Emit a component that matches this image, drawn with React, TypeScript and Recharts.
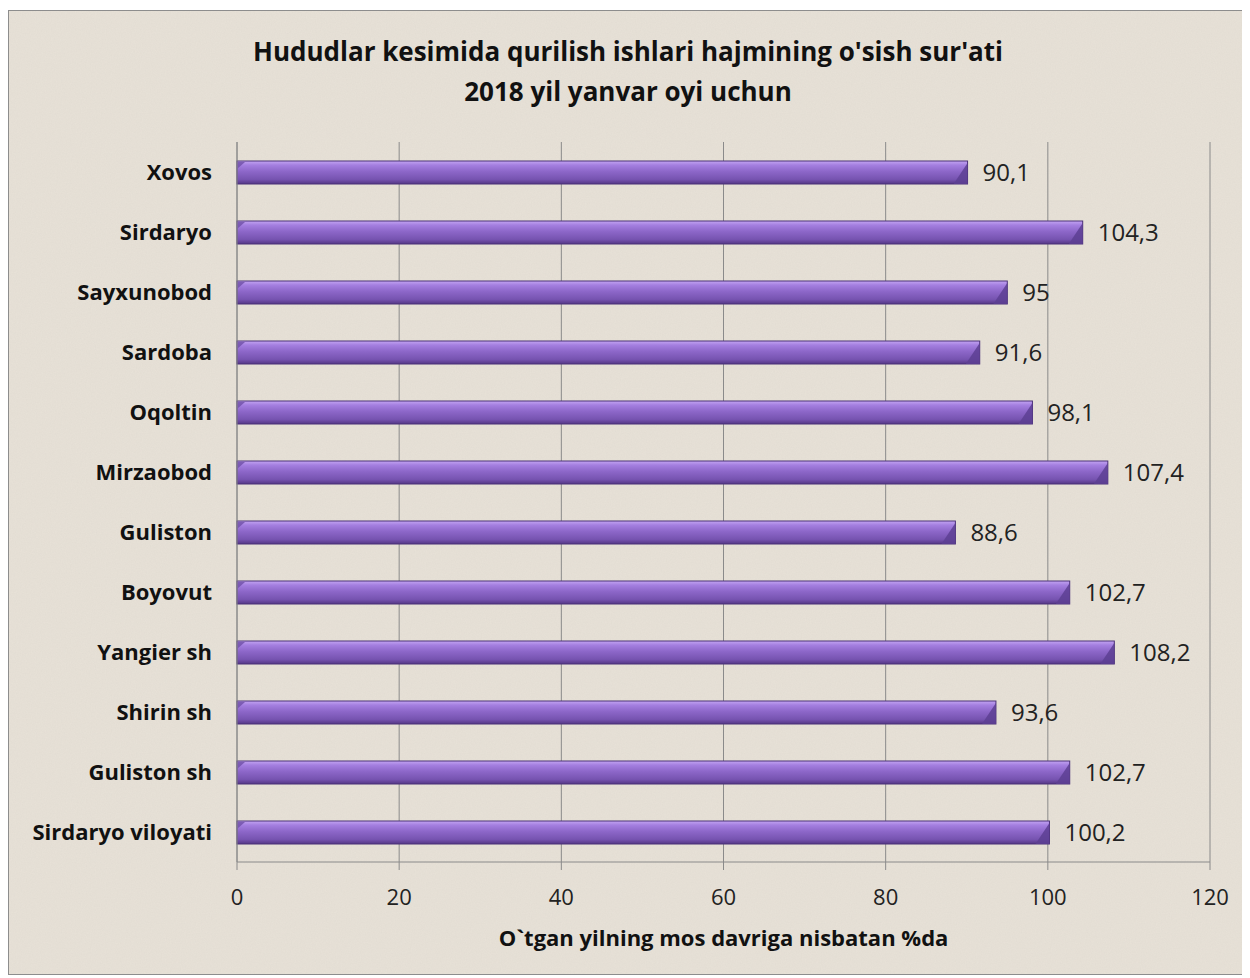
import React from 'react'
import { BarChart, Bar, XAxis, YAxis, CartesianGrid, LabelList } from 'recharts'

const regions = [
  'Xovos', 'Sirdaryo', 'Sayxunobod', 'Sardoba', 'Oqoltin', 'Mirzaobod',
  'Guliston', 'Boyovut', 'Yangier sh', 'Shirin sh', 'Guliston sh', 'Sirdaryo viloyati',
]
const growth = [90.1, 104.3, 95, 91.6, 98.1, 107.4, 88.6, 102.7, 108.2, 93.6, 102.7, 100.2]
const xTicks = [0, 20, 40, 60, 80, 100, 120]

const data = regions.map((name, i) => ({ name, value: growth[i] }))

const FONT = '"Open Sans", Lato, sans-serif'

// cylinder-ish bar like the excel 3d style
const TubeBar = (props: any) => {
  const { x, y, width, height } = props
  if (!width || width <= 0) return null
  const cap = Math.min(14, width)
  return (
    <g>
      <rect x={x} y={y} width={width} height={height} fill="url(#tube)" stroke="#4b3078" strokeWidth={1} />
      <polygon
        points={`${x + width - cap},${y + height} ${x + width},${y + 2} ${x + width},${y + height}`}
        fill="#5d3f93" opacity={0.85}
      />
      <polygon points={`${x},${y + 1} ${x + 8},${y + 1} ${x},${y + 8}`} fill="#6f4fa8" opacity={0.8} />
    </g>
  )
}

export default function App() {
  return (
    <div
      style={{
        position: 'relative', width: 1238, height: 963, marginTop: 2,
        border: '1px solid #8d8d8d', background: '#e8e2d8', fontFamily: FONT,
      }}
    >
      <svg width={1238} height={963} style={{ position: 'absolute', left: 0, top: 0 }}>
        <filter id="paper">
          <feTurbulence type="fractalNoise" baseFrequency="0.8" numOctaves={2} seed={4} />
          <feColorMatrix type="matrix" values="0 0 0 0 0.45  0 0 0 0 0.42  0 0 0 0 0.38  0 0 0 0.22 0" />
        </filter>
        <rect width="100%" height="100%" filter="url(#paper)" opacity={0.5} />
      </svg>
      <div
        style={{
          position: 'absolute', left: 0, width: 1238, top: 20, textAlign: 'center',
          fontWeight: 700, fontSize: 26, lineHeight: '40px', color: '#111',
        }}
      >
        Hududlar kesimida qurilish ishlari hajmining o'sish sur'ati
        <br />
        2018 yil yanvar oyi uchun
      </div>
      <div style={{ position: 'absolute', left: 0, top: 0 }}>
        <BarChart
          width={1238}
          height={963}
          data={data}
          layout="vertical"
          margin={{ top: 131, right: 37, left: 0, bottom: 62 }}
        >
          <defs>
            <linearGradient id="tube" x1="0" y1="0" x2="0" y2="1">
              <stop offset="0%" stopColor="#c3a4f2" />
              <stop offset="18%" stopColor="#a47fe0" />
              <stop offset="45%" stopColor="#8d67c9" />
              <stop offset="80%" stopColor="#7653b0" />
              <stop offset="100%" stopColor="#553785" />
            </linearGradient>
          </defs>
          <CartesianGrid horizontal={false} stroke="#8a8a8a" strokeWidth={1} />
          <XAxis
            type="number"
            domain={[0, 120]}
            ticks={xTicks}
            axisLine={{ stroke: '#8a8a8a' }}
            tickLine={{ stroke: '#8a8a8a' }}
            tickSize={8}
            tickMargin={19}
            height={50}
            tick={{ fontSize: 22, fill: '#222', fontFamily: FONT }}
            label={{
              value: 'O`tgan yilning mos davriga nisbatan %da',
              position: 'insideBottom',
              offset: -34,
              style: { fontSize: 22, fontWeight: 700, fill: '#111', fontFamily: FONT },
            }}
          />
          <YAxis
            type="category"
            dataKey="name"
            width={228}
            axisLine={{ stroke: '#8a8a8a' }}
            tickLine={false}
            tickSize={0}
            tickMargin={25}
            tick={{ fontSize: 22, fontWeight: 700, fill: '#111', fontFamily: FONT }}
          />
          <Bar dataKey="value" barSize={23} shape={<TubeBar />} isAnimationActive={false}>
            <LabelList
              dataKey="value"
              position="right"
              offset={15}
              formatter={(v: any) => String(v).replace('.', ',')}
              style={{ fontSize: 24, fill: '#222', fontFamily: FONT }}
            />
          </Bar>
        </BarChart>
      </div>
    </div>
  )
}
